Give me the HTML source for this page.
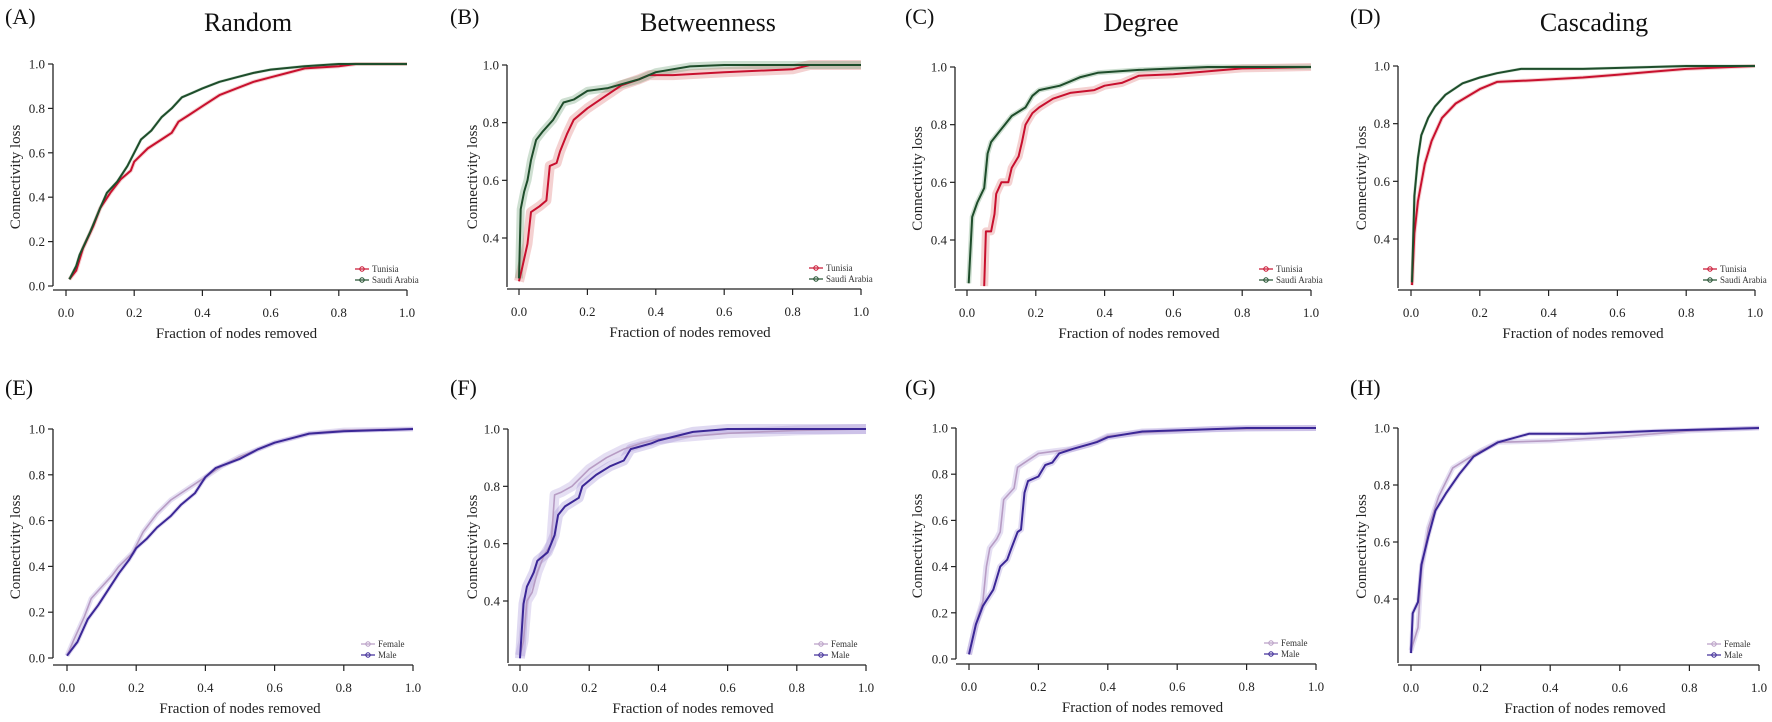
<!DOCTYPE html>
<html><head><meta charset="utf-8">
<style>
html,body{margin:0;padding:0;background:#fff;}
svg{display:block;font-family:"Liberation Serif",serif;}
</style></head>
<body>
<svg id="fig" width="1772" height="722" viewBox="0 0 1772 722"></svg>
<script>
// ---- data (x = fraction of nodes removed, y = connectivity loss) ----
const aTunX=[0.01,0.03,0.05,0.08,0.10,0.13,0.16,0.19,0.20,0.24,0.28,0.31,0.33,0.36,0.40,0.45,0.50,0.55,0.60,0.65,0.70,0.80,0.85,1.0];
const aTunY=[0.03,0.07,0.17,0.27,0.35,0.42,0.48,0.52,0.56,0.62,0.66,0.69,0.74,0.77,0.81,0.86,0.89,0.92,0.94,0.96,0.98,0.99,1.0,1.0];
const aSauX=[0.01,0.03,0.04,0.07,0.10,0.12,0.15,0.18,0.20,0.22,0.25,0.28,0.31,0.34,0.37,0.40,0.45,0.50,0.55,0.60,0.70,0.80,1.0];
const aSauY=[0.03,0.09,0.14,0.24,0.35,0.42,0.47,0.54,0.60,0.66,0.70,0.76,0.80,0.85,0.87,0.89,0.92,0.94,0.96,0.975,0.99,1.0,1.0];
const bTunX=[0.0,0.01,0.025,0.035,0.06,0.08,0.09,0.11,0.12,0.14,0.16,0.20,0.25,0.30,0.35,0.38,0.45,0.60,0.80,0.85,1.0];
const bTunY=[0.25,0.30,0.38,0.49,0.51,0.53,0.65,0.66,0.70,0.76,0.81,0.85,0.89,0.93,0.95,0.965,0.965,0.975,0.985,1.0,1.0];
const bSauX=[0.0,0.005,0.015,0.025,0.035,0.05,0.07,0.10,0.13,0.16,0.20,0.26,0.35,0.40,0.50,0.60,1.0];
const bSauY=[0.26,0.50,0.56,0.60,0.67,0.74,0.77,0.81,0.87,0.88,0.91,0.92,0.95,0.975,0.995,1.0,1.0];
const cTunX=[0.05,0.055,0.07,0.08,0.085,0.10,0.12,0.13,0.15,0.16,0.17,0.19,0.21,0.25,0.30,0.37,0.40,0.45,0.50,0.60,0.80,1.0];
const cTunY=[0.24,0.43,0.43,0.49,0.56,0.60,0.60,0.65,0.69,0.74,0.80,0.84,0.86,0.89,0.91,0.92,0.935,0.945,0.97,0.975,0.995,1.0];
const cSauX=[0.005,0.015,0.03,0.05,0.06,0.07,0.09,0.11,0.13,0.17,0.19,0.21,0.27,0.30,0.33,0.38,0.50,0.70,1.0];
const cSauY=[0.25,0.48,0.53,0.58,0.70,0.74,0.77,0.80,0.83,0.86,0.90,0.92,0.935,0.95,0.965,0.98,0.99,1.0,1.0];
const dTunX=[0.003,0.01,0.02,0.04,0.06,0.09,0.13,0.20,0.25,0.35,0.50,0.60,0.70,0.80,1.0];
const dTunY=[0.24,0.42,0.53,0.66,0.74,0.82,0.87,0.92,0.945,0.95,0.96,0.97,0.98,0.99,1.0];
const dSauX=[0.003,0.01,0.02,0.03,0.05,0.07,0.10,0.15,0.20,0.25,0.32,0.50,0.80,1.0];
const dSauY=[0.25,0.55,0.68,0.76,0.82,0.86,0.90,0.94,0.96,0.975,0.99,0.99,1.0,1.0];
const eFemX=[0.0,0.02,0.05,0.07,0.10,0.13,0.15,0.19,0.22,0.26,0.30,0.35,0.40,0.45,0.50,0.55,0.60,0.65,0.70,0.80,1.0];
const eFemY=[0.01,0.08,0.18,0.26,0.31,0.36,0.40,0.46,0.55,0.63,0.69,0.74,0.79,0.84,0.88,0.91,0.94,0.96,0.98,0.995,1.0];
const eMalX=[0.0,0.03,0.06,0.09,0.12,0.15,0.18,0.20,0.23,0.26,0.30,0.33,0.37,0.40,0.43,0.50,0.55,0.60,0.65,0.70,0.80,1.0];
const eMalY=[0.01,0.07,0.17,0.23,0.30,0.37,0.43,0.48,0.52,0.57,0.62,0.67,0.72,0.79,0.83,0.87,0.91,0.94,0.96,0.98,0.99,1.0];
const fFemX=[0.0,0.01,0.02,0.035,0.05,0.07,0.09,0.10,0.12,0.15,0.20,0.25,0.30,0.35,0.40,0.50,0.60,0.80,1.0];
const fFemY=[0.21,0.26,0.40,0.43,0.50,0.56,0.60,0.77,0.78,0.80,0.86,0.90,0.93,0.95,0.965,0.975,0.985,0.995,1.0];
const fMalX=[0.0,0.01,0.02,0.04,0.05,0.08,0.10,0.11,0.13,0.17,0.18,0.22,0.26,0.30,0.32,0.38,0.40,0.50,0.60,1.0];
const fMalY=[0.20,0.39,0.45,0.50,0.54,0.57,0.63,0.70,0.73,0.76,0.80,0.84,0.87,0.89,0.93,0.95,0.96,0.99,1.0,1.0];
const gFemX=[0.0,0.02,0.04,0.05,0.06,0.08,0.09,0.10,0.13,0.14,0.17,0.20,0.25,0.30,0.35,0.40,0.50,0.70,1.0];
const gFemY=[0.02,0.15,0.25,0.40,0.48,0.52,0.55,0.69,0.74,0.83,0.86,0.89,0.90,0.91,0.93,0.965,0.98,0.995,1.0];
const gMalX=[0.0,0.02,0.04,0.07,0.09,0.11,0.12,0.14,0.15,0.16,0.17,0.20,0.22,0.24,0.26,0.30,0.37,0.40,0.50,0.80,1.0];
const gMalY=[0.02,0.15,0.23,0.30,0.40,0.43,0.47,0.55,0.56,0.72,0.77,0.79,0.84,0.85,0.89,0.91,0.94,0.96,0.985,1.0,1.0];
const hFemX=[0.0,0.02,0.03,0.05,0.08,0.12,0.20,0.25,0.40,0.60,0.80,1.0];
const hFemY=[0.22,0.30,0.50,0.65,0.76,0.86,0.92,0.95,0.955,0.97,0.99,1.0];
const hMalX=[0.0,0.005,0.02,0.03,0.05,0.07,0.10,0.14,0.18,0.25,0.34,0.50,0.70,1.0];
const hMalY=[0.21,0.35,0.39,0.52,0.62,0.71,0.77,0.84,0.90,0.95,0.98,0.98,0.99,1.0];
const xTickLabels=["0.0","0.2","0.4","0.6","0.8","1.0"];
const yTicksFull=[0.0,0.2,0.4,0.6,0.8,1.0];
const yTicksPart=[0.4,0.6,0.8,1.0];
const panelLetters=["(A)","(B)","(C)","(D)","(E)","(F)","(G)","(H)"];
const colTitles=["Random","Betweenness","Degree","Cascading"];
const countryNames=["Tunisia","Saudi Arabia"];
const sexNames=["Female","Male"];

// ---- layout (pixels) ----
const NS="http://www.w3.org/2000/svg";
const svg=document.getElementById('fig');
function mk(tag,attrs,parent){const e=document.createElementNS(NS,tag);for(const k in attrs)e.setAttribute(k,attrs[k]);(parent||svg).appendChild(e);return e;}

const geo=[
 {ax:53,x0:66,x1:407,ya:1.0,pa:64,yb:0.0,pb:286,xa:290,yl:8,lab:5,ymin:0.0,tc:248},
 {ax:507,x0:519,x1:861,ya:1.0,pa:65,yb:0.4,pb:238,xa:289,yl:465,lab:450,ymin:0.22,tc:708},
 {ax:955,x0:967,x1:1311,ya:1.0,pa:67,yb:0.4,pb:240,xa:290,yl:910,lab:905,ymin:0.22,tc:1141},
 {ax:1398,x0:1411,x1:1755,ya:1.0,pa:66,yb:0.4,pb:239,xa:290,yl:1354,lab:1350,ymin:0.22,tc:1594},
 {ax:53,x0:67,x1:413,ya:1.0,pa:429,yb:0.0,pb:658,xa:665,yl:8,lab:5,ymin:0.0},
 {ax:508,x0:520,x1:866,ya:1.0,pa:429,yb:0.4,pb:601,xa:665,yl:465,lab:450,ymin:0.18},
 {ax:956,x0:969,x1:1316,ya:1.0,pa:428,yb:0.0,pb:659,xa:664,yl:910,lab:905,ymin:0.0},
 {ax:1398,x0:1411,x1:1759,ya:1.0,pa:428,yb:0.4,pb:599,xa:665,yl:1354,lab:1350,ymin:0.18}
];
const series=[
 [[aTunX,aTunY],[aSauX,aSauY]],
 [[bTunX,bTunY],[bSauX,bSauY]],
 [[cTunX,cTunY],[cSauX,cSauY]],
 [[dTunX,dTunY],[dSauX,dSauY]],
 [[eFemX,eFemY],[eMalX,eMalY]],
 [[fFemX,fFemY],[fMalX,fMalY]],
 [[gFemX,gFemY],[gMalX,gMalY]],
 [[hFemX,hFemY],[hMalX,hMalY]]
];
const topColors=["#c8102e","#1e4d2b"], topBands=["rgba(215,90,90,0.28)","rgba(80,140,90,0.28)"];
const botColors=["#b79cc4","#3b2796"], botBands=["rgba(170,150,215,0.30)","rgba(150,130,210,0.30)"];
const bandW=[[4,3],[10,8],[8,5],[4,3],[5,4],[10,10],[6,6],[5,4]];

geo.forEach((g,i)=>{
  const top=i<4;
  const grp=mk('g',{});
  
  
  const xs=v=>g.x0+(g.x1-g.x0)*v;
  const ys=v=>g.pb+(g.pa-g.pb)*(v-g.yb)/(g.ya-g.yb);
  // panel letter
  const L=mk('text',{x:g.lab,y:top?24:395,'font-size':22,fill:'#111'},grp);L.textContent=panelLetters[i];
  
  
  if(top){const T=mk('text',{x:g.tc,y:31,'font-size':26,'text-anchor':'middle',fill:'#111'},grp);T.textContent=colTitles[i];
    
    }
  // y axis
  const yt=g.yb===0?yTicksFull:yTicksPart;
  const yAxis=mk('g',{},grp);
  
  
  mk('line',{x1:g.ax,x2:g.ax,y1:ys(1.0),y2:g.yb===0?ys(0):g.xa-2,stroke:'#222','stroke-width':1.3},yAxis);
  yt.forEach(v=>{mk('line',{x1:g.ax-5,x2:g.ax,y1:ys(v),y2:ys(v),stroke:'#222','stroke-width':1.2},yAxis);
    const t=mk('text',{x:g.ax-8,y:ys(v)+4.5,'font-size':13,'text-anchor':'end',fill:'#222'},yAxis);t.textContent=v.toFixed(1);
    
    });
  const cy=(ys(1.0)+g.xa)/2;
  const yt2=mk('text',{x:g.yl+12,y:cy,'font-size':15,'text-anchor':'middle',fill:'#222',transform:`rotate(-90 ${g.yl+12} ${cy})`},grp);
  yt2.textContent='Connectivity loss';
  
  
  // x axis
  const xAxis=mk('g',{},grp);
  
  
  mk('line',{x1:g.ax,x2:g.x1,y1:g.xa,y2:g.xa,stroke:'#222','stroke-width':1.3},xAxis);
  xTickLabels.forEach((s,k)=>{const v=k/5;mk('line',{x1:xs(v),x2:xs(v),y1:g.xa,y2:g.xa+6,stroke:'#222','stroke-width':1.2},xAxis);
    const t=mk('text',{x:xs(v),y:g.xa+27,'font-size':13,'text-anchor':'middle',fill:'#222'},xAxis);t.textContent=s;
    
    });
  const xt=mk('text',{x:(g.x0+g.x1)/2,y:g.xa+48,'font-size':15,'text-anchor':'middle',fill:'#222'},grp);
  xt.textContent='Fraction of nodes removed';
  
  
  // series
  const cols=top?topColors:botColors, bands=top?topBands:botBands, names=top?countryNames:sexNames;
  series[i].forEach((s,j)=>{
    const pts=s[0].map((x,k)=>xs(x).toFixed(1)+','+ys(s[1][k]).toFixed(1)).join(' ');
    const b=mk('polyline',{points:pts,fill:'none',stroke:bands[j],'stroke-width':bandW[i][j],'stroke-linejoin':'round'},grp);
    
    
  });
  series[i].forEach((s,j)=>{
    const pts=s[0].map((x,k)=>xs(x).toFixed(1)+','+ys(s[1][k]).toFixed(1)).join(' ');
    const l=mk('polyline',{points:pts,fill:'none',stroke:cols[j],'stroke-width':top?2:(j?2:1.6),'stroke-linejoin':'round'},grp);
    
    
  });
  // legend
  const lg=mk('g',{},grp);
  
  
  const lx=g.x1-52, ly=g.xa-21;
  names.forEach((n,j)=>{
    const yy=ly+j*11;
    const e=mk('g',{},lg);
    
    
    mk('line',{x1:lx,x2:lx+14,y1:yy,y2:yy,stroke:cols[j],'stroke-width':1.2},e);
    mk('circle',{cx:lx+7,cy:yy,r:2.2,fill:'none',stroke:cols[j],'stroke-width':1},e);
    const t=mk('text',{x:lx+17,y:yy+3,'font-size':9,fill:'#333'},e);t.textContent=n;
  });
});
</script>
</body></html>
